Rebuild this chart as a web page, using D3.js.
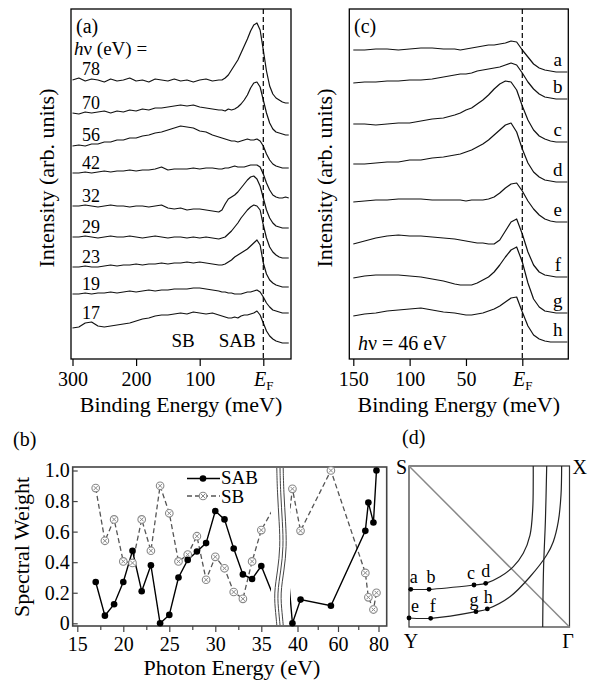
<!DOCTYPE html>
<html>
<head>
<meta charset="utf-8">
<script src="https://cdn.jsdelivr.net/npm/d3@7/dist/d3.min.js"></script>
</head>
<body style="margin:0;background:#fff">
<script>
// ---------- (a) spectra at different photon energies ----------
const energyA = [300,290,280,270,260,250,240,230,220,210,200,190,180,170,160,150,140,130,120,110,100,90,80,70,
                 65,60,55,50,45,40,35,30,25,20,15,10,5,0,-5,-10,-15,-20,-25,-30,-35,-40];
const photonA = ["78","70","56","42","32","29","23","19","17"];
const offsetA = [256,224,191,161,131,101,72,46,16];
const specA78 = [23,25,22,24,23,21,24,22,23,25,22,23,21,24,23,22,24,22,23,21,23,24,22,23, 23,25,28,33,38,43,50,57,64,72,78,80,73,53,32,17,9,5,3,1,0,0];
const specA70 = [22,21,23,22,23,24,22,24,23,25,24,26,25,27,27,28,29,30,29,30,28,27,26,25, 25,24,26,25,26,28,31,35,40,47,52,53,48,35,22,12,6,3,2,1,0,0];
const specA56 = [22,23,22,24,24,26,26,28,28,30,30,32,33,35,36,38,40,42,41,40,37,36,33,31, 30,29,28,27,27,26,27,28,29,28,28,29,27,22,14,8,4,2,1,0,0,0];
const specA42 = [25,25,26,25,26,27,26,27,27,28,27,28,28,29,31,28,29,29,29,30,29,30,30,29, 29,30,30,31,32,31,31,31,32,33,33,33,31,24,15,8,3,1,0,0,1,0];
const specA32 = [22,22,23,22,21,22,23,22,22,21,22,22,21,22,23,20,19,20,18,19,19,18,17,16, 18,24,29,31,33,36,40,44,48,51,52,49,42,30,18,10,5,2,1,0,0,0];
const specA29 = [21,21,22,21,20,21,22,21,21,22,21,20,21,22,21,20,21,21,20,21,20,21,20,19, 20,21,24,27,31,35,40,44,48,51,53,52,48,33,20,11,6,3,1,0,0,0];
const specA23 = [20,20,21,20,20,21,22,21,22,22,23,22,23,23,24,23,24,24,25,24,25,24,23,22, 22,23,25,27,30,32,34,36,38,41,44,47,42,24,13,7,4,2,1,0,0,0];
const specA19 = [19,19,20,19,20,20,21,20,21,22,21,22,23,22,23,23,24,24,24,25,25,24,23,22, 21,21,20,20,19,19,19,20,21,21,22,23,21,16,10,6,3,2,1,0,0,0];
const specA17 = [15,16,20,21,17,16,17,18,19,20,22,24,25,27,28,28,29,30,29,31,30,29,30,28, 27,26,25,25,26,25,27,28,28,29,30,32,28,20,12,7,4,2,1,0,0,0];
const spectraA = [specA78, specA70, specA56, specA42, specA32, specA29, specA23, specA19, specA17];
const bandNameA = ["SB", "SAB"];
const bandEnergyA = [126, 41];
const ticksA = [300, 200, 100, 0];

// ---------- (c) spectra along cuts a-h, hv = 46 eV ----------
const energyC = [150,140,130,120,110,100,90,80,70,60,55,50,45,40,35,30,25,20,15,10,5,0,-5,-10,-15,-20,-25,-30,-35,-40];
const cutC = ["a","b","c","d","e","f","g","h"];
const offsetC = [287,260,217,177,137,82,46,17];
const specCa = [22,22,23,23,22,23,24,24,23,23, 22,23,24,25,26,27,27,28,29,31, 30,22,15,8,4,2,1,0,0,0];
const specCb = [16,17,17,18,18,19,19,20,22,24, 25,25,26,28,29,30,31,32,34,36, 34,26,17,10,5,2,1,0,0,0];
const specCc = [18,18,17,18,19,19,21,23,24,27, 29,32,34,38,42,47,53,58,61,60, 52,36,22,12,6,3,1,0,0,0];
const specCd = [18,18,19,20,20,22,22,24,25,27, 28,30,32,35,38,42,47,52,57,59, 50,33,19,10,5,2,1,0,0,0];
const specCe = [20,21,22,22,23,23,23,22,22,22, 22,21,22,22,22,23,25,29,34,38, 39,31,21,13,7,3,1,0,0,0];
const specCf = [33,36,39,41,42,41,41,40,39,38, 37,36,35,34,34,33,33,37,46,55, 58,43,25,12,5,2,1,0,0,0];
const specCg = [35,37,38,38,38,37,36,34,32,29, 28,28,28,30,33,36,41,48,56,63, 66,51,30,14,6,2,1,0,0,0];
const specCh = [26,28,29,31,32,33,34,32,30,29, 28,27,27,28,29,31,33,36,40,44, 45,30,16,7,3,1,0,0,0,0];
const spectraC = [specCa, specCb, specCc, specCd, specCe, specCf, specCg, specCh];
const ticksC = [150, 100, 50, 0];

// ---------- (b) spectral weight vs photon energy ----------
const photonB   = [17,18,19,20,21,22,23,24,25,26,27,28,29,30,31,32,33,34,35, 37.5,41.5,56.5,73.5,75,77.5,79];
const weightSAB = [0.27,0.05,0.125,0.27,0.475,0.21,0.38,0.0,0.055,0.30,0.415,0.47,0.525,0.735,0.68,0.49,0.32,0.29,0.375,
                   0.0,0.155,0.115,0.605,0.79,0.66,1.0];
const weightSB  = [0.885,0.54,0.68,0.405,0.395,0.68,0.475,0.90,0.72,0.405,0.45,0.57,0.285,0.435,0.36,0.205,0.16,0.405,0.61,
                   0.88,0.605,1.0,0.33,0.17,0.09,0.20];
const ticksBLow = [15, 20, 25, 30, 35];
const minorBLow = [17.5, 22.5, 27.5, 32.5];
const ticksBHigh = [40, 60, 80];
const minorBHigh = [50, 70];
const ticksBY = [0, 0.2, 0.4, 0.6, 0.8, 1.0];

// ---------- (d) Fermi surface quadrant with the cut positions ----------
const kName = ["a","b","c","d","e","f","g","h"];
const kU = [0.011, 0.125, 0.405, 0.478, 0.0, 0.135, 0.417, 0.488];
const kV = [0.234, 0.234, 0.261, 0.271, 0.056, 0.054, 0.095, 0.112];
const fsInner = [[0,0.234],[0.125,0.234],[0.405,0.261],[0.478,0.271],[0.567,0.312],[0.65,0.375],
                 [0.712,0.458],[0.754,0.571],[0.771,0.737],[0.774,0.902],[0.774,1.0]];
const fsOuter = [[0,0.056],[0.135,0.054],[0.417,0.095],[0.488,0.112],[0.629,0.188],[0.754,0.312],
                 [0.858,0.447],[0.899,0.53],[0.93,0.654],[0.947,0.82],[0.951,1.0]];
const fsSheet = [[0.858,1.0],[0.85,0.665],[0.838,0.354],[0.833,0]];
const cornerName = ["S","X","Y","Γ"];
const cornerU = [0, 1, 0, 1];
const cornerV = [1, 1, 0, 0];

// one family name only
const serif = "Liberation Serif";
const svg = d3.select("body").append("svg")
    .attr("width", 595).attr("height", 681)
    .attr("font-family", serif);

/**
 * Draws a stacked-spectra panel with a framed box, dashed Fermi level and a bottom axis
 */
function drawSpectra(box, x, y, energy, spectra, offsets, ticks) {

    let g = svg.append("g");
    let line = d3.line().x(d => x(d[0])).y(d => y(d[1]));

    spectra.forEach(function(s, k) {
        g.append("path")
            .datum(energy.map((e, i) => [e, offsets[k] + s[i]]))
            .attr("d", line)
            .attr("fill", "none")
            .attr("stroke", "#111")
            .attr("stroke-width", 1.2)
            .attr("stroke-linejoin", "round");
    });

    //Fermi level
    g.append("line")
        .attr("x1", x(0)).attr("x2", x(0))
        .attr("y1", box.top).attr("y2", box.bottom)
        .attr("stroke", "#000").attr("stroke-width", 1.2)
        .attr("stroke-dasharray", "5,3");

    g.append("rect")
        .attr("x", box.left).attr("y", box.top)
        .attr("width", box.right - box.left).attr("height", box.bottom - box.top)
        .attr("fill", "none").attr("stroke", "#000").attr("stroke-width", 1.3);

    let axis = g.append("g")
        .attr("transform", "translate(0," + box.bottom + ")")
        .call(d3.axisBottom(x).tickValues(ticks).tickSize(7).tickPadding(6));
    axis.select(".domain").remove();
    axis.attr("font-size", 20).attr("font-family", serif);
    axis.selectAll(".tick line").attr("stroke-width", 1.2);

    //E_F instead of 0
    axis.selectAll(".tick text").filter(d => d === 0)
        .text(null)
        .each(function() {
            let t = d3.select(this);
            t.append("tspan").attr("font-style", "italic").text("E");
            t.append("tspan").attr("font-size", 13).attr("dy", 4).text("F");
        });

    //titles
    g.append("text")
        .attr("x", (box.left + box.right) / 2).attr("y", 412)
        .attr("text-anchor", "middle").attr("font-size", 22)
        .text("Binding Energy (meV)");
    g.append("text")
        .attr("transform", "translate(" + (box.left - 17) + "," + 178 + ") rotate(-90)")
        .attr("text-anchor", "middle").attr("font-size", 22)
        .text("Intensity (arb. units)");

    return g;
}

// ---------- panel (a) ----------
const boxA = {left: 71, right: 291, top: 9, bottom: 359};
const xA = d3.scaleLinear().domain([300, 0]).range([72.5, 263.3]);
const yA = d3.scaleLinear().domain([0, 350]).range([359, 9]);
let gA = drawSpectra(boxA, xA, yA, energyA, spectraA, offsetA, ticksA);

gA.selectAll(".hvlabel")
    .data(photonA).enter().append("text")
    .attr("class", "hvlabel")
    .attr("x", xA(285))
    .attr("y", (d, i) => yA(offsetA[i] + d3.max(spectraA[i].slice(0, 4))) - 3)
    .attr("font-size", 18)
    .text(d => d);

gA.selectAll(".band")
    .data(bandNameA).enter().append("text")
    .attr("class", "band")
    .attr("x", (d, i) => xA(bandEnergyA[i]))
    .attr("y", 347)
    .attr("text-anchor", "middle").attr("font-size", 19)
    .text(d => d);

gA.append("text").attr("x", 76).attr("y", 33).attr("font-size", 20).text("(a)");
let hvA = gA.append("text").attr("x", 74).attr("y", 55).attr("font-size", 19);
hvA.append("tspan").attr("font-style", "italic").text("h");
hvA.append("tspan").text("ν (eV) =");

// ---------- panel (c) ----------
const boxC = {left: 349.3, right: 568.3, top: 9, bottom: 359};
const xC = d3.scaleLinear().domain([150, 0]).range([353.3, 522.3]);
const yC = d3.scaleLinear().domain([0, 350]).range([359, 9]);
let gC = drawSpectra(boxC, xC, yC, energyC, spectraC, offsetC, ticksC);

gC.selectAll(".cut")
    .data(cutC).enter().append("text")
    .attr("class", "cut")
    .attr("x", xC(-31.5))
    .attr("y", (d, i) => yC(offsetC[i]) - 6)
    .attr("text-anchor", "middle").attr("font-size", 19)
    .text(d => d);

gC.append("text").attr("x", 354).attr("y", 33).attr("font-size", 20).text("(c)");
let hvC = gC.append("text").attr("x", 358).attr("y", 350).attr("font-size", 20);
hvC.append("tspan").attr("font-style", "italic").text("h");
hvC.append("tspan").text("ν = 46 eV");

// ---------- panel (b) ----------
const boxB = {left: 72.7, right: 386.7, top: 467, bottom: 626};
const xBLow = d3.scaleLinear().domain([15, 35]).range([77.3, 261.3]);
const xBHigh = d3.scaleLinear().domain([40, 80]).range([297.5, 378.5]);
const yB = d3.scaleLinear().domain([0, 1]).range([623.3, 470.5]);
const breakX = 280;

let gB = svg.append("g");
let defs = svg.append("defs");
defs.append("clipPath").attr("id", "clipLow").append("rect")
    .attr("x", boxB.left).attr("y", boxB.top - 10).attr("width", breakX - 9 - boxB.left).attr("height", 180);
defs.append("clipPath").attr("id", "clipHigh").append("rect")
    .attr("x", breakX + 10).attr("y", boxB.top - 10).attr("width", boxB.right - breakX - 10).attr("height", 180);

gB.append("rect")
    .attr("x", boxB.left).attr("y", boxB.top)
    .attr("width", boxB.right - boxB.left).attr("height", boxB.bottom - boxB.top)
    .attr("fill", "none").attr("stroke", "#444").attr("stroke-width", 1.6);

let segments = [
    {x: xBLow, clip: "url(#clipLow)", keep: p => p < 36},
    {x: xBHigh, clip: "url(#clipHigh)", keep: p => p > 36}
];

function sbMarker(sel, x, y) {
    sel.append("circle").attr("cx", x).attr("cy", y).attr("r", 3.8)
        .attr("fill", "#fff").attr("stroke", "#888").attr("stroke-width", 1.1);
    sel.append("path")
        .attr("d", "M" + (x - 2) + "," + (y - 2) + "L" + (x + 2) + "," + (y + 2) +
                   "M" + (x + 2) + "," + (y - 2) + "L" + (x - 2) + "," + (y + 2))
        .attr("stroke", "#888").attr("stroke-width", 1);
}

segments.forEach(function(seg) {
    let lineW = d3.line().x((d, i) => seg.x(photonB[i])).y(d => yB(d));
    let lines = gB.append("g").attr("clip-path", seg.clip);
    lines.append("path").datum(weightSB).attr("d", lineW)
        .attr("fill", "none").attr("stroke", "#555").attr("stroke-width", 1.3)
        .attr("stroke-dasharray", "5,3");
    lines.append("path").datum(weightSAB).attr("d", lineW)
        .attr("fill", "none").attr("stroke", "#000").attr("stroke-width", 1.4);

    let idx = d3.range(photonB.length).filter(i => seg.keep(photonB[i]));
    let marks = gB.append("g");
    idx.forEach(i => sbMarker(marks, seg.x(photonB[i]), yB(weightSB[i])));
    marks.selectAll(".sab")
        .data(idx).enter().append("circle")
        .attr("class", "sab")
        .attr("cx", i => seg.x(photonB[i]))
        .attr("cy", i => yB(weightSAB[i]))
        .attr("r", 3.3).attr("fill", "#000");
});

//axis break: three wavy lines
let wave = d3.line().curve(d3.curveBasis).x(d => d[0]).y(d => d[1]);
[-3.2, 0, 3.2].forEach(function(dx) {
    let h = boxB.bottom - boxB.top;
    let pts = [[0, 0], [0.15, 0.5], [0.35, 2.5], [0.5, 3.5], [0.65, 1], [0.8, -3], [0.93, -1], [1, 0]]
        .map(p => [breakX + dx + p[1], boxB.top + 1 + p[0] * (h - 2)]);
    gB.append("path").attr("d", wave(pts))
        .attr("fill", "none").attr("stroke", "#444").attr("stroke-width", 1);
});

function bottomAxis(scale, ticks, minor) {
    let a = gB.append("g").attr("transform", "translate(0," + boxB.bottom + ")")
        .call(d3.axisBottom(scale).tickValues(ticks).tickSize(6).tickPadding(5));
    a.select(".domain").remove();
    a.attr("font-size", 20).attr("font-family", serif);
    a.selectAll(".tick line").attr("stroke", "#444").attr("stroke-width", 1.2);
    let m = gB.append("g").attr("transform", "translate(0," + boxB.bottom + ")")
        .call(d3.axisBottom(scale).tickValues(minor).tickSize(4).tickFormat(""));
    m.select(".domain").remove();
    m.selectAll(".tick line").attr("stroke", "#444").attr("stroke-width", 1.2);
}
bottomAxis(xBLow, ticksBLow, minorBLow);
bottomAxis(xBHigh, ticksBHigh, minorBHigh);

let yAxisB = gB.append("g").attr("transform", "translate(" + boxB.left + ",0)")
    .call(d3.axisLeft(yB).tickValues(ticksBY).tickSize(-5).tickPadding(3)
        .tickFormat(d => d === 0 ? "0" : d3.format(".1f")(d)));
yAxisB.select(".domain").remove();
yAxisB.attr("font-size", 20).attr("font-family", serif);
yAxisB.selectAll(".tick line").attr("stroke", "#444").attr("stroke-width", 1.2);

gB.append("text")
    .attr("transform", "translate(29,547) rotate(-90)")
    .attr("text-anchor", "middle").attr("font-size", 22)
    .text("Spectral Weight");
gB.append("text")
    .attr("x", 232).attr("y", 675)
    .attr("text-anchor", "middle").attr("font-size", 22)
    .text("Photon Energy (eV)");
gB.append("text").attr("x", 13).attr("y", 446).attr("font-size", 20).text("(b)");

//legend
let leg = gB.append("g");
leg.append("line").attr("x1", 187).attr("x2", 220).attr("y1", 478.5).attr("y2", 478.5)
    .attr("stroke", "#000").attr("stroke-width", 1.4);
leg.append("circle").attr("cx", 203).attr("cy", 478.5).attr("r", 3.3).attr("fill", "#000");
leg.append("text").attr("x", 221).attr("y", 484).attr("font-size", 19).text("SAB");
leg.append("line").attr("x1", 187).attr("x2", 220).attr("y1", 496).attr("y2", 496)
    .attr("stroke", "#555").attr("stroke-width", 1.3).attr("stroke-dasharray", "5,3");
sbMarker(leg, 203, 496);
leg.append("text").attr("x", 221).attr("y", 503).attr("font-size", 19).text("SB");

// ---------- panel (d) ----------
const xD = d3.scaleLinear().domain([0, 1]).range([409, 569.5]);
const yD = d3.scaleLinear().domain([0, 1]).range([627, 466]);
let gD = svg.append("g");

gD.append("rect")
    .attr("x", xD(0)).attr("y", yD(1))
    .attr("width", xD(1) - xD(0)).attr("height", yD(0) - yD(1))
    .attr("fill", "none").attr("stroke", "#333").attr("stroke-width", 1.2);

gD.append("line")
    .attr("x1", xD(0)).attr("y1", yD(1)).attr("x2", xD(1)).attr("y2", yD(0))
    .attr("stroke", "#888").attr("stroke-width", 1.5);

let fsLine = d3.line().curve(d3.curveCatmullRom).x(d => xD(d[0])).y(d => yD(d[1]));
[fsInner, fsOuter, fsSheet].forEach(function(c) {
    gD.append("path").datum(c).attr("d", fsLine)
        .attr("fill", "none").attr("stroke", "#222").attr("stroke-width", 1.2);
});

const kLabelDx = [3, 2, -3, 0, 6, 2, -2, 1];
gD.selectAll(".kpt")
    .data(kName).enter().append("circle")
    .attr("class", "kpt")
    .attr("cx", (d, i) => xD(kU[i])).attr("cy", (d, i) => yD(kV[i]))
    .attr("r", 2.4).attr("fill", "#000");
gD.selectAll(".klab")
    .data(kName).enter().append("text")
    .attr("class", "klab")
    .attr("x", (d, i) => xD(kU[i]) + kLabelDx[i]).attr("y", (d, i) => yD(kV[i]) - 6)
    .attr("text-anchor", "middle").attr("font-size", 18)
    .text(d => d);

const cornerDx = [-2, 3, 2, -1.5];
const cornerDy = [8, 8, 21, 21];
const cornerAnchor = ["end", "start", "middle", "middle"];
gD.selectAll(".corner")
    .data(cornerName).enter().append("text")
    .attr("class", "corner")
    .attr("x", (d, i) => xD(cornerU[i]) + cornerDx[i])
    .attr("y", (d, i) => yD(cornerV[i]) + cornerDy[i])
    .attr("text-anchor", (d, i) => cornerAnchor[i]).attr("font-size", 20)
    .text(d => d);

gD.append("text").attr("x", 402).attr("y", 444).attr("font-size", 20).text("(d)");

//serif on every label, overriding the axis defaults
svg.selectAll("text").style("font-family", serif).style("fill", "#000");
</script>
</body>
</html>
